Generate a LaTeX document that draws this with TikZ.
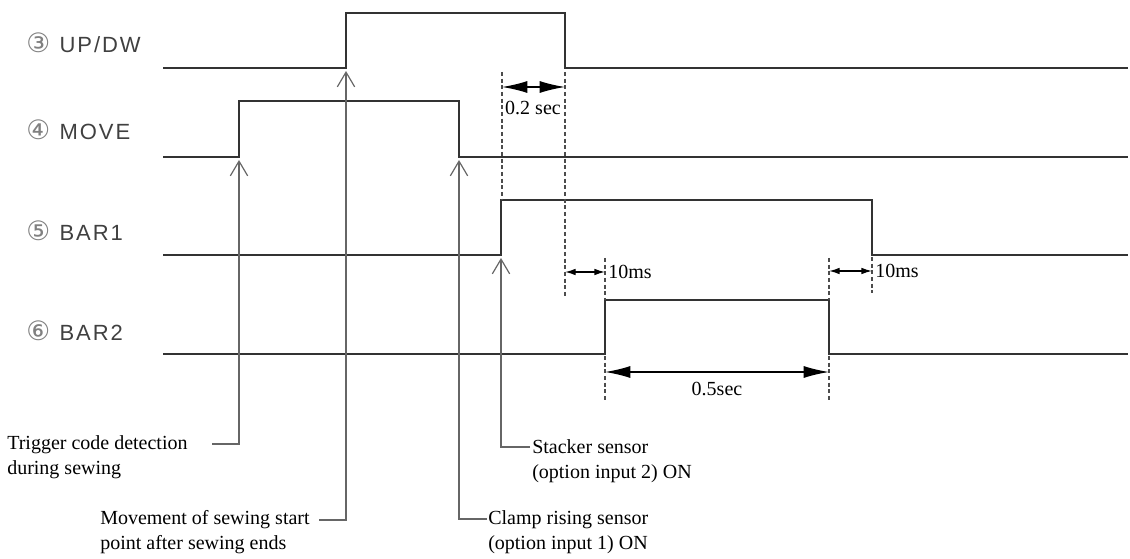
\documentclass[tikz,border=0pt]{standalone}
\usepackage{fontspec}
\setmainfont{Liberation Serif}
\newfontfamily\labfont[LetterSpace=9]{Liberation Sans}
\newfontfamily\circfont{DejaVu Sans}
\usetikzlibrary{arrows.meta,calc}
\begin{document}
\begin{tikzpicture}[x=0.75pt,y=-0.75pt,
  sig/.style={draw=black!80, line width=1.5pt, line join=miter},
  conn/.style={draw=black!60, line width=1.1pt,
     -{Straight Barb[length=11pt,width=13pt,line width=0.9pt]}},
  dsh/.style={draw=black!70, line width=0.8pt, dash pattern=on 3pt off 2pt},
  dimbig/.style={draw=black, line width=1pt, {Latex[length=19pt,width=9pt]}-{Latex[length=19pt,width=9pt]}},
  dimsmall/.style={draw=black, line width=1pt, {Latex[length=8pt,width=5pt]}-{Latex[length=8pt,width=5pt]}},
  siglab/.style={anchor=west, inner sep=0pt, text=black!75, font=\fontsize{16.5}{18}\selectfont},
  circ/.style={},
  note/.style={anchor=north west, inner sep=0pt, align=left, font=\fontsize{15}{19}\selectfont},
  dimtxt/.style={inner sep=0pt, font=\fontsize{15}{18}\selectfont}]
\useasboundingbox (0,0) rectangle (1130,559);

% signal labels
\newcommand{\circd}[1]{{\circfont\fontsize{20}{20}\selectfont\color{black!50}#1}}
\node[siglab] (l3) at (26,43) {\circd{③}\hspace{7pt}{\labfont UP/DW}};
\node[siglab] (l4) at (26,130) {\circd{④}\hspace{7pt}{\labfont MOVE}};
\node[siglab] (l5) at (26,231) {\circd{⑤}\hspace{7pt}{\labfont BAR1}};
\node[siglab] (l6) at (26,331) {\circd{⑥}\hspace{7pt}{\labfont BAR2}};

% signals
\draw[sig] (163,68) -- (346,68) -- (346,13) -- (565,13) -- (565,68) -- (1128,68);
\draw[sig] (163,157) -- (239,157) -- (239,101) -- (459,101) -- (459,157) -- (1128,157);
\draw[sig] (163,255) -- (501,255) -- (501,200) -- (872,200) -- (872,255) -- (1128,255);
\draw[sig] (163,354) -- (605,354) -- (605,300) -- (829,300) -- (829,354) -- (1128,354);

% edge points (arrow tips)
\coordinate (udR) at (346,71);
\coordinate (mvR) at (239,160);
\coordinate (mvF) at (459,160);
\coordinate (b1R) at (501,258);

% dashed guide lines
\draw[dsh] (502,72) -- (502,200);
\draw[dsh] (565,72) -- (565,297);
\draw[dsh] (605,258) -- (605,300);
\draw[dsh] (605,356) -- (605,402);
\draw[dsh] (829,258) -- (829,300);
\draw[dsh] (829,356) -- (829,402);
\draw[dsh] (872,257) -- (872,293);

% dimensions
\coordinate (d1a) at (502,87); \coordinate (d1b) at (565,87);
\draw[dimbig] (d1a) -- (d1b);
\node[dimtxt] (t1) at (533,108) {0.2 sec};
\coordinate (d2a) at (565,272); \coordinate (d2b) at (605,272);
\draw[dimsmall] (d2a) -- (d2b);
\node[dimtxt, anchor=west] (t2) at (608,272) {10ms};
\coordinate (d3a) at (829,271); \coordinate (d3b) at (872,271);
\draw[dimsmall] (d3a) -- (d3b);
\node[dimtxt, anchor=west] (t3) at (875,271) {10ms};
\coordinate (d4a) at (605,372); \coordinate (d4b) at (829,372);
\draw[dimbig] (d4a) -- (d4b);
\node[dimtxt] (t4) at (717,389) {0.5sec};

% notes
\node[note] (trig) at (7,435) {Trigger code detection\\during sewing};
\node[note] (mov) at (100,510) {Movement of sewing start\\point after sewing ends};
\node[note] (stk) at (532,439) {Stacker sensor\\(option input 2) ON};
\node[note] (clp) at (488,510) {Clamp rising sensor\\(option input 1) ON};

\coordinate (trigL) at (212,444);
\coordinate (movL) at (319,520);
\coordinate (stkL) at (530,447);
\coordinate (clpL) at (487,519);

\draw[conn] (trigL) -| (mvR);
\draw[conn] (movL) -| (udR);
\draw[conn] (stkL) -| (b1R);
\draw[conn] (clpL) -| (mvF);
\end{tikzpicture}
\end{document}
